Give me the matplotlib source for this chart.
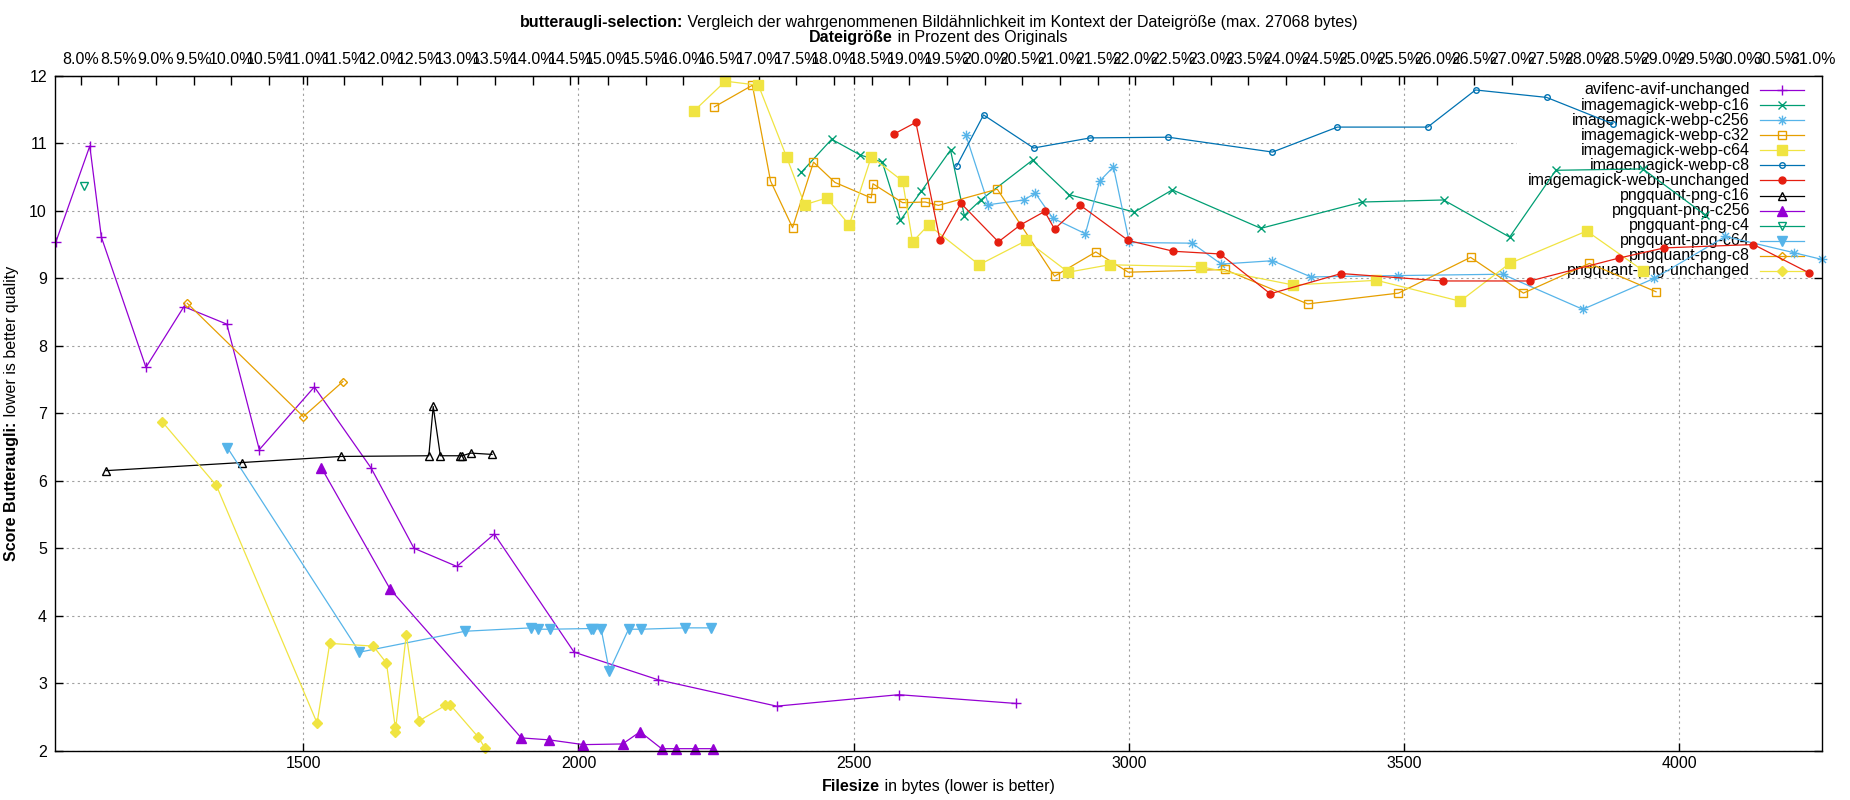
import matplotlib
matplotlib.use('Agg')
import matplotlib.pyplot as plt
from matplotlib.path import Path
from matplotlib.lines import Line2D
from matplotlib.patches import Rectangle
import numpy as np

plt.rcParams['font.family'] = ['Liberation Sans', 'DejaVu Sans']
FS = 11.5
plt.rcParams['font.size'] = FS

# ---------------- data ----------------
avif_x = [1050, 1112, 1133, 1214, 1283, 1361, 1420, 1520, 1623, 1701, 1779, 1847, 1992, 2145, 2360, 2582, 2795]
avif_y = [9.53, 10.96, 9.61, 7.68, 8.58, 8.32, 6.46, 7.39, 6.19, 5.00, 4.73, 5.21, 3.46, 3.05, 2.66, 2.83, 2.70]

webp_c16_x = [2405, 2460, 2511, 2552, 2585, 2623, 2676, 2701, 2731, 2825, 2891, 3010, 3079, 3240, 3424, 3572, 3692, 3776, 3934, 4047]
webp_c16_y = [10.57, 11.06, 10.83, 10.72, 9.86, 10.29, 10.90, 9.93, 10.16, 10.75, 10.24, 9.98, 10.31, 9.74, 10.13, 10.16, 9.61, 10.60, 10.62, 9.94]

webp_c256_x = [2704, 2745, 2809, 2830, 2862, 2921, 2947, 2972, 3001, 3115, 3168, 3261, 3331, 3489, 3679, 3825, 3955, 4084, 4208, 4259]
webp_c256_y = [11.12, 10.09, 10.16, 10.26, 9.89, 9.66, 10.44, 10.65, 9.53, 9.52, 9.21, 9.26, 9.02, 9.04, 9.06, 8.54, 9.00, 9.62, 9.38, 9.28]

webp_c32_x = [2247, 2316, 2349, 2389, 2427, 2466, 2532, 2535, 2589, 2630, 2654, 2761, 2865, 2940, 2999, 3174, 3325, 3490, 3621, 3717, 3837, 3958]
webp_c32_y = [11.54, 11.86, 10.44, 9.75, 10.72, 10.42, 10.19, 10.40, 10.12, 10.13, 10.08, 10.32, 9.03, 9.39, 9.09, 9.13, 8.62, 8.78, 9.31, 8.78, 9.22, 8.80]

webp_c64_x = [2210, 2267, 2327, 2378, 2411, 2451, 2492, 2532, 2589, 2607, 2636, 2728, 2814, 2890, 2965, 3131, 3299, 3450, 3602, 3692, 3832, 3935]
webp_c64_y = [11.48, 11.92, 11.86, 10.80, 10.09, 10.19, 9.79, 10.80, 10.44, 9.54, 9.79, 9.20, 9.56, 9.09, 9.20, 9.17, 8.90, 8.97, 8.66, 9.22, 9.70, 9.11]

webp_c8_x = [2687, 2736, 2827, 2930, 3072, 3261, 3379, 3543, 3630, 3759, 3879]
webp_c8_y = [10.66, 11.42, 10.93, 11.08, 11.09, 10.87, 11.24, 11.24, 11.79, 11.68, 11.29]

webp_unch_x = [2574, 2613, 2657, 2695, 2763, 2803, 2847, 2865, 2912, 2999, 3081, 3166, 3257, 3386, 3570, 3729, 3891, 3973, 4135, 4236]
webp_unch_y = [11.14, 11.31, 9.56, 10.11, 9.54, 9.79, 9.99, 9.73, 10.08, 9.56, 9.40, 9.36, 8.77, 9.07, 8.96, 8.96, 9.30, 9.45, 9.50, 9.08]

png_c16_x = [1142, 1389, 1569, 1728, 1736, 1749, 1785, 1789, 1804, 1843]
png_c16_y = [6.15, 6.27, 6.36, 6.37, 7.10, 6.37, 6.37, 6.37, 6.41, 6.39]

png_c256_x = [1533, 1658, 1896, 1947, 2009, 2080, 2112, 2151, 2178, 2211, 2245]
png_c256_y = [6.19, 4.39, 2.19, 2.16, 2.09, 2.10, 2.28, 2.03, 2.03, 2.03, 2.03]

png_c4_x = [1102]
png_c4_y = [10.37]

png_c64_x = [1362, 1602, 1794, 1914, 1927, 1948, 2022, 2027, 2041, 2056, 2091, 2114, 2193, 2240]
png_c64_y = [6.49, 3.46, 3.77, 3.82, 3.80, 3.80, 3.81, 3.80, 3.81, 3.18, 3.80, 3.80, 3.82, 3.82]

png_c8_x = [1289, 1500, 1572]
png_c8_y = [8.63, 6.95, 7.47]

png_unch_x = [1244, 1342, 1525, 1548, 1627, 1651, 1667, 1667, 1687, 1710, 1758, 1767, 1818, 1830]
png_unch_y = [6.87, 5.93, 2.41, 3.59, 3.55, 3.30, 2.35, 2.27, 3.72, 2.44, 2.67, 2.68, 2.20, 2.04]

series_names = ["avifenc-avif-unchanged", "imagemagick-webp-c16", "imagemagick-webp-c256",
                "imagemagick-webp-c32", "imagemagick-webp-c64", "imagemagick-webp-c8",
                "imagemagick-webp-unchanged", "pngquant-png-c16", "pngquant-png-c256",
                "pngquant-png-c4", "pngquant-png-c64", "pngquant-png-c8", "pngquant-png-unchanged"]

x_ticks = [1500, 2000, 2500, 3000, 3500, 4000]
y_ticks = [2, 3, 4, 5, 6, 7, 8, 9, 10, 11, 12]
orig_ref = 13690.0          # byte size that the top percent axis refers to
pct_ticks = np.arange(8.0, 31.01, 0.5)

# ---------------- styles ----------------
PURPLE, GREEN, LBLUE, ORANGE, YELLOW, BLUE, RED, BLACK = (
    '#9400D3', '#009E73', '#56B4E9', '#E69F00', '#F0E442', '#0072B2', '#E51E10', '#000000')

asterisk = Path([(-1, 0), (1, 0), (0, -1), (0, 1), (-.72, -.72), (.72, .72), (-.72, .72), (.72, -.72)],
                [Path.MOVETO, Path.LINETO] * 4)

datasets = [
    (avif_x, avif_y), (webp_c16_x, webp_c16_y), (webp_c256_x, webp_c256_y),
    (webp_c32_x, webp_c32_y), (webp_c64_x, webp_c64_y), (webp_c8_x, webp_c8_y),
    (webp_unch_x, webp_unch_y), (png_c16_x, png_c16_y), (png_c256_x, png_c256_y),
    (png_c4_x, png_c4_y), (png_c64_x, png_c64_y), (png_c8_x, png_c8_y), (png_unch_x, png_unch_y)]
styles = [
    (PURPLE, '+', 7.5, False), (GREEN, 'x', 5.5, False), (LBLUE, asterisk, 7, False),
    (ORANGE, 's', 5.5, False), (YELLOW, 's', 6.5, True), (BLUE, 'o', 4, False),
    (RED, 'o', 5, True), (BLACK, '^', 6, False), (PURPLE, '^', 6.5, True),
    (GREEN, 'v', 6, False), (LBLUE, 'v', 6.5, True), (ORANGE, 'D', 4.2, False), (YELLOW, 'D', 4.6, True)]

W, H = 1850, 800
fig = plt.figure(figsize=(W / 100, H / 100), dpi=100)
ax = fig.add_axes([0.02989, 0.061625, 0.95481, 0.84363])

for i, ((xs, ys), (c, m, ms, filled)) in enumerate(zip(datasets, styles)):
    ax.plot(xs, ys, color=c, lw=0.9, marker=m, ms=ms, mec=c, mew=1.0,
            mfc=(c if filled else 'none'), zorder=2 + i * 0.01, clip_on=False)

ax.set_xlim(1049.3, 4259)
ax.set_ylim(2, 12)
ax.set_xticks(x_ticks)
ax.set_yticks(y_ticks)
ax.tick_params(axis='both', direction='in', top=True, right=True, length=6, width=1, labelsize=FS)
ax.tick_params(axis='x', pad=4)
ax.tick_params(axis='y', pad=6)
ax.set_axisbelow(True)
ax.grid(True, linestyle=(0, (2, 3)), color='#a0a0a0', lw=0.8)
for sp in ax.spines.values():
    sp.set_linewidth(1.0)

sec = ax.secondary_xaxis('top', functions=(lambda b: b / orig_ref * 100, lambda p: p * orig_ref / 100))
sec.set_xticks(pct_ticks)
sec.set_xticklabels([f"{p:.1f}%" for p in pct_ticks])
sec.tick_params(direction='in', length=6.5, width=1, pad=6, labelsize=FS)

# ---------------- key (gnuplot style, opaque box, text right-aligned) ----------------
ax.add_patch(Rectangle((0.8275, 0.7019), 1 - 0.8275, 1 - 0.7019, transform=ax.transAxes,
                       facecolor='white', edgecolor='none', zorder=1))
for i, (name, (c, m, ms, filled)) in enumerate(zip(series_names, styles)):
    yk = 0.979 - i * 0.02234
    ax.text(0.9594, yk, name, transform=ax.transAxes, ha='right', va='center', fontsize=FS, zorder=1.1)
    ax.add_line(Line2D([0.9651, 0.9902], [yk, yk], transform=ax.transAxes, color=c, lw=0.9, zorder=1.2))
    ax.add_line(Line2D([0.9775], [yk], transform=ax.transAxes, color=c, marker=m, ms=ms, mec=c,
                       mew=1.0, mfc=(c if filled else 'none'), lw=0, zorder=1.2))

# ---------------- mixed bold / normal labels ----------------
fig.canvas.draw()
renderer = fig.canvas.get_renderer()


def mixed_h(parts, xc_px, yb_px):
    ts = [fig.text(0, yb_px / H, s, fontweight=w, fontsize=FS, ha='left', va='baseline') for s, w in parts]
    widths = [t.get_window_extent(renderer).width for t in ts]
    x = xc_px - sum(widths) / 2
    for t, w in zip(ts, widths):
        t.set_x(x / W)
        x += w


def mixed_v(parts, x_px, yc_px):
    ts = [fig.text(x_px / W, 0, s, fontweight=w, fontsize=FS, rotation=90, ha='center', va='bottom')
          for s, w in parts]
    heights = [t.get_window_extent(renderer).height for t in ts]
    y = yc_px - sum(heights) / 2
    for t, h in zip(ts, heights):
        t.set_y(y / H)
        y += h


xc = 938.5
mixed_h([("butteraugli-selection:", 'bold'),
         (" Vergleich der wahrgenommenen Bildähnlichkeit im Kontext der Dateigröße (max. 27068 bytes)", 'normal')],
        xc, H - 26.5)
mixed_h([("Dateigröße", 'bold'), (" in Prozent des Originals", 'normal')], xc, H - 42)
mixed_h([("Filesize", 'bold'), (" in bytes (lower is better)", 'normal')], xc, H - 791)
mixed_v([("Score Butteraugli:", 'bold'), (" lower is better quality", 'normal')], 12, H - 413.25)

fig.savefig('out.png', dpi=100)
